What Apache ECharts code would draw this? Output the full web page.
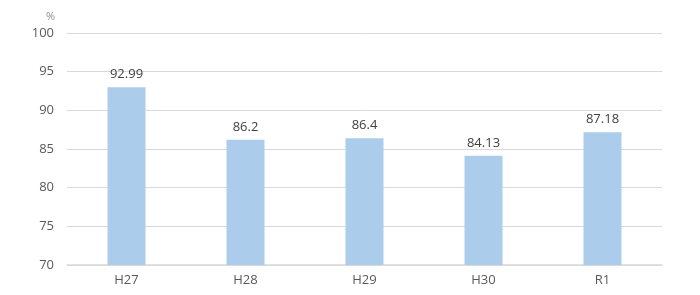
<!DOCTYPE html>
<html><head><meta charset="utf-8">
<script src="https://cdn.jsdelivr.net/npm/echarts@6/dist/echarts.min.js"></script>
<style>html,body{margin:0;padding:0;background:#fff}#c{width:700px;height:295px}</style>
</head><body><div id="c"></div>
<script>
const categories = ['H27','H28','H29','H30','R1'];
const values = [92.99, 86.2, 86.4, 84.13, 87.18];
const yMin = 70, yMax = 100, yStep = 5;
const unit = '%';

const chart = echarts.init(document.getElementById('c'), null, {renderer:'canvas'});
chart.setOption({
  animation:false,
  textStyle:{fontFamily:'"Open Sans", "Noto Sans", sans-serif'},
  grid:{left:67, right:38, top:33, bottom:30},
  xAxis:{type:'category', data:categories,
    axisLine:{lineStyle:{color:'#d9d9d9', width:1.5}}, axisTick:{show:false},
    axisLabel:{color:'#595959', fontSize:13, margin:9}},
  yAxis:{type:'value', min:yMin, max:yMax, interval:yStep,
    name:unit, nameGap:11, nameTextStyle:{color:'#8c8c8c', fontSize:11, align:'right', padding:[0,12,0,0]},
    axisLine:{show:false}, axisTick:{show:false},
    axisLabel:{color:'#595959', fontSize:13, margin:13},
    splitLine:{lineStyle:{color:'#d9d9d9', width:1}}},
  series:[{type:'bar', data:values, barWidth:38,
    itemStyle:{color:'#abcdeb'},
    label:{show:true, position:'top', color:'#404040', fontSize:13, distance:6}}]
});
</script></body></html>
